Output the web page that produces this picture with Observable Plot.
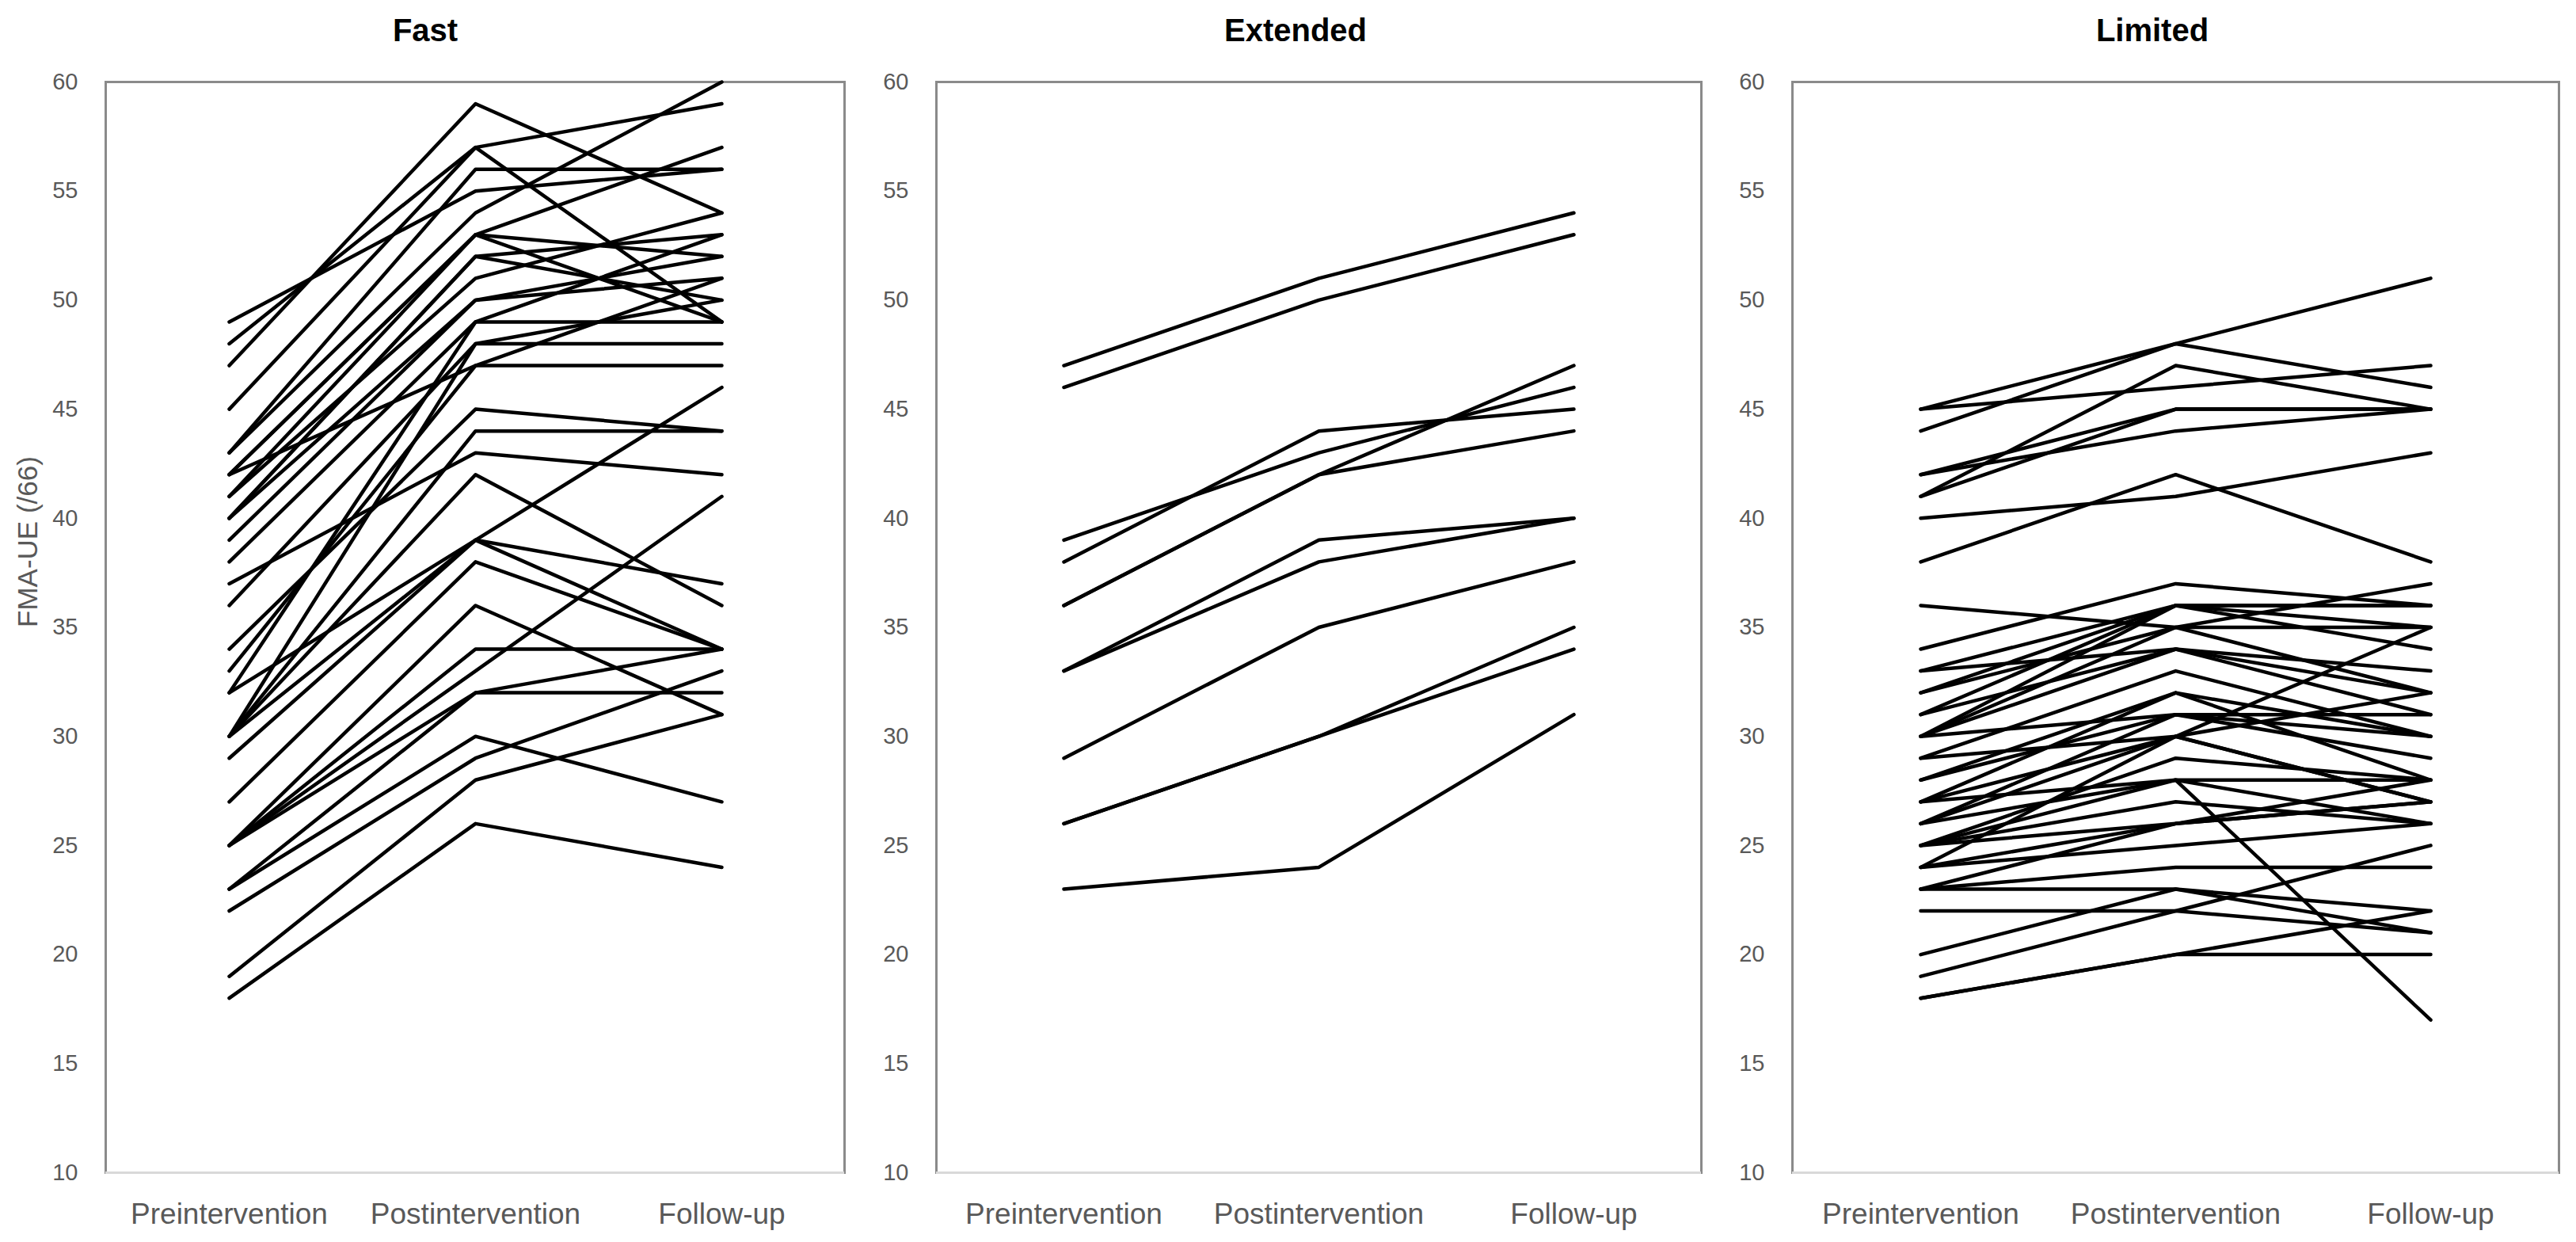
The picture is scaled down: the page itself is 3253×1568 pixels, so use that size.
<!DOCTYPE html>
<html>
<head>
<meta charset="utf-8">
<script src="https://cdn.jsdelivr.net/npm/d3@7"></script>
<script src="https://cdn.jsdelivr.net/npm/@observablehq/plot@0.6"></script>
<style>
  html, body { margin: 0; padding: 0; background: #fff; }
  #wrap { position: relative; width: 3253px; height: 1568px; background: #fff; font-family: "Liberation Sans", Arial, sans-serif; }
  .title { position: absolute; top: 16px; font-weight: bold; font-size: 40px; line-height: 44px; color: #000; transform: translateX(-50%); white-space: nowrap; }
  .panel { position: absolute; top: 60px; }
</style>
</head>
<body>
<div id="wrap"></div>
<script>
// ---- data ----
const phases = ["Preintervention", "Postintervention", "Follow-up"];
const panelTitles = ["Fast", "Extended", "Limited"];
const yTicks = [10, 15, 20, 25, 30, 35, 40, 45, 50, 55, 60];
const yLabel = "FMA-UE (/66)";

const fastPre    = [47,45,48,49,43,43,42,42,41,40,40,41,40,39,38,32,36,30,42,33,34,30,37,30,32,29,30,27,25,25,25,25,23,23,22,19,18];
const fastPost   = [59,57,57,55,56,54,53,53,53,52,52,51,50,50,49,49,48,48,47,47,45,44,43,42,39,39,39,38,36,34,33,32,32,30,29,28,26];
const fastFollow = [54,59,49,56,56,60,57,52,49,53,50,54,51,52,53,49,50,48,47,51,44,44,42,36,46,37,34,34,31,34,41,34,32,27,33,31,24];

const extPre    = [47,46,39,38,36,36,33,33,29,26,26,23];
const extPost   = [51,50,43,44,42,42,39,38,35,30,30,24];
const extFollow = [54,53,46,45,47,44,40,40,38,35,34,31];

const limPre    = [45,44,45,41,42,41,42,40,38,
                   36,34,33,33,32,32,31,31,30,30,30,30,29,29,28,28,27,27,27,26,26,26,25,25,25,25,24,24,23,23,23,24,22,20,19,18,18];
const limPost   = [48,48,46,47,45,45,44,41,42,
                   35,37,36,34,36,35,36,34,36,35,31,34,33,30,32,31,32,30,28,31,30,28,29,28,26,27,26,25,26,24,23,30,22,23,22,20,20];
const limFollow = [51,46,47,45,45,45,45,43,38,
                   35,36,35,33,36,32,34,32,36,37,30,31,30,32,28,31,30,27,28,29,27,26,28,17,27,26,28,26,27,24,21,35,21,22,25,22,20];

function rows(pre, post, fol) {
  return pre.flatMap((v, i) => [
    {id: i, phase: phases[0], value: v},
    {id: i, phase: phases[1], value: post[i]},
    {id: i, phase: phases[2], value: fol[i]}
  ]);
}

const panels = [
  {title: panelTitles[0], data: rows(fastPre, fastPost, fastFollow), left: 0,    width: 1090, ml: 133, mr: 24, titleX: 537,  yLabel: true},
  {title: panelTitles[1], data: rows(extPre, extPost, extFollow),    left: 1090, width: 1090, ml: 92,  mr: 32, titleX: 1636, yLabel: false},
  {title: panelTitles[2], data: rows(limPre, limPost, limFollow),    left: 2180, width: 1073, ml: 83,  mr: 22, titleX: 2718, yLabel: false}
];

const wrap = document.getElementById("wrap");
for (const p of panels) {
  const t = document.createElement("div");
  t.className = "title";
  t.style.left = p.titleX + "px";
  t.textContent = p.title;
  wrap.appendChild(t);

  const marks = [
    Plot.frame({stroke: "#8a8a8a", strokeWidth: 3}),
    Plot.ruleY([10], {stroke: "#d9d9d9", strokeWidth: 3}),
    Plot.axisY({ticks: yTicks, tickSize: 0, tickPadding: 35, fontSize: 29, label: null, tickFormat: d => String(d)}),
    Plot.axisX({tickSize: 0, tickPadding: 38, fontSize: 37, label: null}),
    Plot.line(p.data, {x: "phase", y: "value", z: "id", stroke: "#000", strokeWidth: 4.5, curve: "linear"})
  ];
  if (p.yLabel) {
    marks.push(Plot.text([yLabel], {frameAnchor: "left", dx: -98, rotate: -90, text: d => d, fontSize: 35, fill: "#595959"}));
  }
  const chart = Plot.plot({
    width: p.width,
    height: 1508,
    marginTop: 43,
    marginBottom: 88,
    marginLeft: p.ml,
    marginRight: p.mr,
    style: {fontFamily: "'Liberation Sans', Arial, sans-serif", color: "#595959", background: "white", overflow: "visible"},
    x: {type: "point", domain: phases, padding: 0.5},
    y: {domain: [10, 60]},
    marks
  });
  const holder = document.createElement("div");
  holder.className = "panel";
  holder.style.left = p.left + "px";
  holder.style.width = p.width + "px";
  holder.appendChild(chart);
  wrap.appendChild(holder);
}
</script>
</body>
</html>
